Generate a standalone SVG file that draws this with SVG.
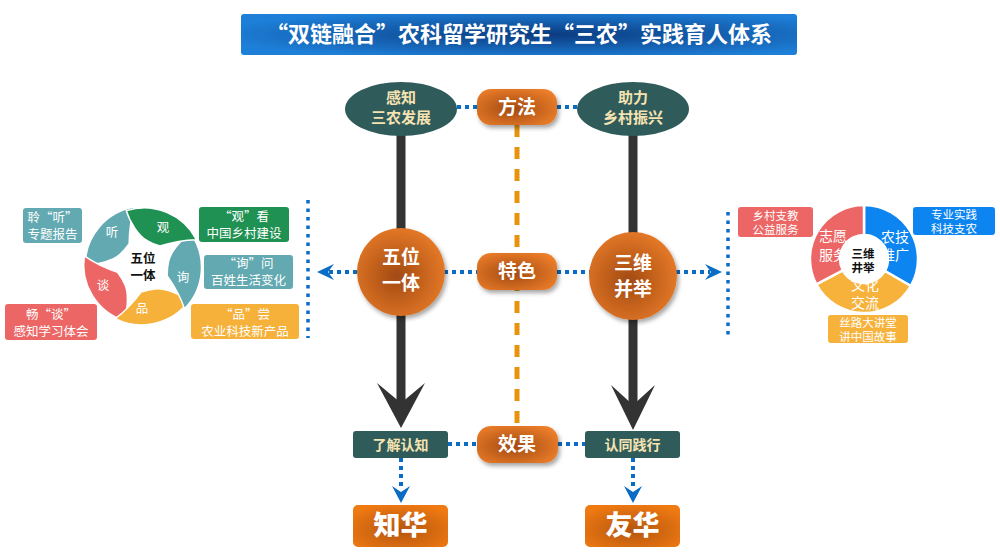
<svg xmlns="http://www.w3.org/2000/svg" width="1000" height="559" viewBox="0 0 1000 559">
<defs>
<radialGradient id="gOr" cx="45%" cy="55%" r="65%">
<stop offset="0" stop-color="#A24A12"/>
<stop offset="1" stop-color="#EE7F2A"/>
</radialGradient>
<radialGradient id="gBox" cx="50%" cy="60%" r="65%">
<stop offset="0" stop-color="#B3550F"/>
<stop offset="1" stop-color="#F07A12"/>
</radialGradient>
<radialGradient id="gTitle" cx="55%" cy="50%" r="60%">
<stop offset="0" stop-color="#0B3B80"/>
<stop offset="1" stop-color="#1D7FD8"/>
</radialGradient>
<filter id="sh" x="-20%" y="-20%" width="150%" height="160%">
<feDropShadow dx="2" dy="3" stdDeviation="2" flood-color="#000" flood-opacity="0.35"/>
</filter>
<path id="petal" d="M102.3,224.9 A59 59 0 0 1 177.8,217.7 C162.6,226.1 148.5,240.4 148.5,240.4 C140,242 134.1,241.6 134.1,241.6 C125.8,241.4 111.2,234.2 102.3,224.9 Z"/>
</defs>
<style>
text{font-family:"Noto Sans CJK SC","Noto Sans",sans-serif;text-anchor:middle}
.t{fill:#fff;font-weight:700;font-size:22px}
.cr{fill:#F6E3B1;font-weight:700;font-size:15px}
.crs{fill:#F6E3B1;font-weight:700;font-size:14px}
.pl{fill:#fff;font-weight:700;font-size:19px}
.big{fill:#fff;font-weight:900;font-size:27px}
.w13{fill:#fff;font-size:12.5px}
.w12{fill:#fff;font-size:11.5px}
.w14{fill:#fff;font-size:14px}
.k{fill:#111;font-weight:700;font-size:12.5px}
.ks{fill:#111;font-weight:700;font-size:11.5px}
.dot{stroke:#0A6CC4;stroke-width:4;stroke-dasharray:4 4;fill:none}
.vdot{stroke:#0A6CC4;stroke-width:3.5;stroke-dasharray:3.5 5;fill:none}
.blk{stroke:#333;stroke-width:9;fill:none}
.ah{fill:#0A6CC4}
.teal{fill:#2F5B5B}
</style>
<rect width="1000" height="559" fill="#fff"/>

<g id="title">
<rect x="241" y="14" width="556" height="41" rx="3" fill="url(#gTitle)"/>
<text class="t" x="519" y="42">“双链融合”农科留学研究生“三农”实践育人体系</text>
</g>

<g id="connectors">
<line x1="517" y1="125" x2="517" y2="428" stroke="#E8930C" stroke-width="5" stroke-dasharray="12 10"/>
<line class="blk" x1="401" y1="135" x2="401" y2="405"/>
<path d="M377,383 L401,428 L425,383 L401,403 Z" fill="#333"/>
<line class="blk" x1="633" y1="135" x2="633" y2="407"/>
<path d="M611,385 L633,430 L655,385 L633,405 Z" fill="#333"/>
<line class="dot" x1="457" y1="107" x2="477" y2="107"/>
<line class="dot" x1="557" y1="107" x2="577" y2="107"/>
<line class="dot" x1="329" y1="272" x2="358" y2="272"/>
<line class="dot" x1="444" y1="272" x2="477" y2="272"/>
<line class="dot" x1="557" y1="272" x2="590" y2="272"/>
<line class="dot" x1="676" y1="272" x2="710" y2="272"/>
<path class="ah" d="M317,272 L334,264 L328,272 L334,280 Z"/>
<path class="ah" d="M722,272 L705,264 L711,272 L705,280 Z"/>
<line class="dot" x1="448" y1="444" x2="477" y2="444"/>
<line class="dot" x1="558" y1="444" x2="585" y2="444"/>
<line class="dot" x1="401" y1="458" x2="401" y2="490"/>
<line class="dot" x1="633" y1="458" x2="633" y2="490"/>
<path class="ah" d="M401,503 L392,486 L401,492 L410,486 Z"/>
<path class="ah" d="M633,503 L624,486 L633,492 L642,486 Z"/>
<line class="vdot" x1="308" y1="200" x2="308" y2="338"/>
<line class="vdot" x1="728" y1="212" x2="728" y2="336"/>
</g>

<g id="n-perceive">
<ellipse class="teal" cx="401" cy="109" rx="56" ry="27"/>
<text class="cr" x="401" y="103">感知</text>
<text class="cr" x="401" y="123">三农发展</text>
</g>
<g id="n-help">
<ellipse class="teal" cx="633" cy="109" rx="56" ry="27"/>
<text class="cr" x="633" y="103">助力</text>
<text class="cr" x="633" y="123">乡村振兴</text>
</g>
<g id="n-method">
<rect x="477" y="89" width="80" height="36" rx="14" fill="url(#gOr)" filter="url(#sh)"/>
<text class="pl" x="517" y="114">方法</text>
</g>
<g id="n-feature">
<rect x="477" y="253" width="80" height="37" rx="14" fill="url(#gOr)" filter="url(#sh)"/>
<text class="pl" x="517" y="278">特色</text>
</g>
<g id="n-effect">
<rect x="477" y="426" width="81" height="37" rx="14" fill="url(#gOr)" filter="url(#sh)"/>
<text class="pl" x="517" y="451">效果</text>
</g>
<g id="n-five">
<circle cx="401" cy="272" r="44" fill="url(#gOr)" filter="url(#sh)"/>
<text class="pl" x="401" y="264">五位</text>
<text class="pl" x="401" y="290">一体</text>
</g>
<g id="n-three">
<circle cx="633" cy="276" r="44" fill="url(#gOr)" filter="url(#sh)"/>
<text class="pl" x="633" y="270">三维</text>
<text class="pl" x="633" y="296">并举</text>
</g>
<g id="n-understand">
<rect class="teal" x="353" y="431" width="95" height="27" rx="3"/>
<text class="crs" x="400.5" y="449.5">了解认知</text>
</g>
<g id="n-practice">
<rect class="teal" x="585" y="431" width="95" height="27" rx="3"/>
<text class="crs" x="632.5" y="449.5">认同践行</text>
</g>
<g id="n-zhihua">
<rect x="353" y="505" width="95" height="42" rx="5" fill="url(#gBox)"/>
<text class="big" x="400.5" y="535">知华</text>
</g>
<g id="n-youhua">
<rect x="585" y="505" width="95" height="42" rx="5" fill="url(#gBox)"/>
<text class="big" x="632.5" y="535">友华</text>
</g>

<g id="wheel">
<use href="#petal" transform="rotate(316 143 266)" fill="#62A9B1" stroke="#fff" stroke-width="1.5"/>
<use href="#petal" transform="rotate(244 143 266)" fill="#EC6665" stroke="#fff" stroke-width="1.5"/>
<use href="#petal" transform="rotate(172 143 266)" fill="#F6B13A" stroke="#fff" stroke-width="1.5"/>
<use href="#petal" transform="rotate(100 143 266)" fill="#62A9B1" stroke="#fff" stroke-width="1.5"/>
<use href="#petal" transform="rotate(28 143 266)" fill="#1F9152" stroke="#fff" stroke-width="1.5"/>
<text class="w13" x="112" y="237">听</text>
<text class="w13" x="163" y="232">观</text>
<text class="w13" x="183" y="282">询</text>
<text class="w13" x="142" y="313">品</text>
<text class="w13" x="103" y="290">谈</text>
<text class="k" x="143" y="263">五位</text>
<text class="k" x="143" y="280">一体</text>
</g>
<g id="b-listen">
<rect x="23" y="208" width="59" height="35" rx="3" fill="#62A9B1"/>
<text class="w13" x="52.5" y="221.5">聆“听”</text>
<text class="w13" x="52.5" y="238.5">专题报告</text>
</g>
<g id="b-see">
<rect x="199" y="207" width="90" height="35" rx="3" fill="#1F9152"/>
<text class="w13" x="244" y="220.5">“观”看</text>
<text class="w13" x="244" y="237.5">中国乡村建设</text>
</g>
<g id="b-ask">
<rect x="204" y="255" width="89" height="34" rx="3" fill="#62A9B1"/>
<text class="w13" x="248.5" y="268">“询”问</text>
<text class="w13" x="248.5" y="285">百姓生活变化</text>
</g>
<g id="b-talk">
<rect x="5" y="304" width="92" height="36" rx="3" fill="#EC6665"/>
<text class="w13" x="51" y="318.5">畅“谈”</text>
<text class="w13" x="51" y="335.5">感知学习体会</text>
</g>
<g id="b-taste">
<rect x="191" y="304" width="108" height="35" rx="3" fill="#F6B13A"/>
<text class="w13" x="245" y="318.5">“品”尝</text>
<text class="w13" x="245" y="335.5">农业科技新产品</text>
</g>

<g id="pie">
<path d="M864,205 A54 54 0 0 1 910.8,286 L884.8,271 A24 24 0 0 0 864,235 Z" fill="#0D85F0" stroke="#fff" stroke-width="2.5"/>
<path d="M910.8,286 A54 54 0 0 1 816.3,284.4 L842.8,270.3 A24 24 0 0 0 884.8,271 Z" fill="#F7B23B" stroke="#fff" stroke-width="2.5"/>
<path d="M816.3,284.4 A54 54 0 0 1 864,205 L864,235 A24 24 0 0 0 842.8,270.3 Z" fill="#EC6665" stroke="#fff" stroke-width="2.5"/>
<text class="w14" x="833" y="241">志愿</text>
<text class="w14" x="833" y="260">服务</text>
<text class="w14" x="895" y="242">农技</text>
<text class="w14" x="895" y="260">推广</text>
<text class="w14" x="865" y="290">文化</text>
<text class="w14" x="865" y="308">交流</text>
<text class="ks" x="863" y="258">三维</text>
<text class="ks" x="863" y="272">井举</text>
</g>
<g id="b-teach">
<rect x="738" y="207" width="75" height="30" rx="3" fill="#EC6665"/>
<text class="w12" x="775.5" y="220">乡村支教</text>
<text class="w12" x="775.5" y="234">公益服务</text>
</g>
<g id="b-pro">
<rect x="913" y="207" width="82" height="28" rx="3" fill="#0D85F0"/>
<text class="w12" x="954" y="219">专业实践</text>
<text class="w12" x="954" y="233">科技支农</text>
</g>
<g id="b-silk">
<rect x="828" y="315" width="80" height="28" rx="3" fill="#F7B23B"/>
<text class="w12" x="868" y="327">丝路大讲堂</text>
<text class="w12" x="868" y="341">讲中国故事</text>
</g>
</svg>
